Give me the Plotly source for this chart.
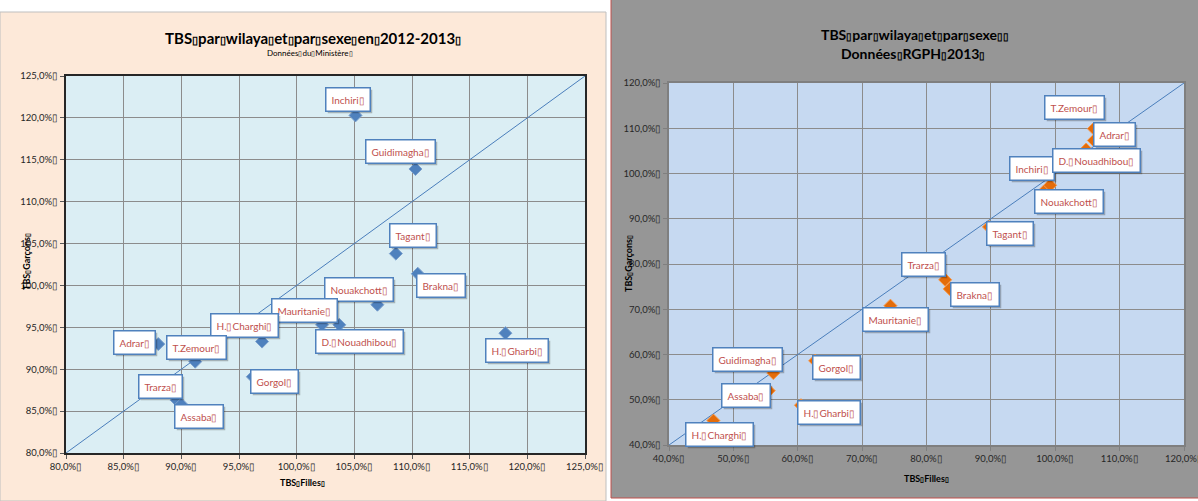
import plotly.graph_objects as go

BOX = "\u25af"  # placeholder glyph that appears between words in the source workbook

# ---------------- Ministry data, 2012-2013 (percent) ----------------
min_wilayas = ["Inchiri", "Guidimagha", "Tagant", "Brakna", "Nouakchott", "Mauritanie",
               "D." + BOX + "Nouadhibou", "H." + BOX + "Gharbi", "H." + BOX + "Charghi",
               "Adrar", "T.Zemour", "Gorgol", "Trarza", "Assaba"]
min_filles = [105.1, 110.3, 108.6, 110.5, 107.0, 102.2, 103.7, 118.1, 97.0, 88.0, 91.2, 96.2, 89.6, 90.0]
min_garcons = [120.3, 113.9, 103.8, 101.4, 97.7, 95.3, 95.3, 94.3, 93.3, 93.0, 90.9, 89.1, 86.3, 85.8]

min_ticks = [80, 85, 90, 95, 100, 105, 110, 115, 120, 125]
min_ticktext = ["80,0%", "85,0%", "90,0%", "95,0%", "100,0%", "105,0%",
                "110,0%", "115,0%", "120,0%", "125,0%"]

# ---------------- RGPH 2013 census data (percent) ----------------
rgph_wilayas = ["Guidimagha", "Gorgol", "Assaba", "H." + BOX + "Gharbi", "H." + BOX + "Charghi",
                "Trarza", "Brakna", "Mauritanie", "Tagant", "Inchiri", "Nouakchott",
                "D." + BOX + "Nouadhibou", "Adrar", "T.Zemour"]
rgph_filles = [56.2, 62.7, 55.5, 60.5, 46.9, 82.9, 83.6, 74.4, 89.7, 98.2, 99.2, 104.8, 106.0, 106.0]
rgph_garcons = [55.9, 58.6, 52.0, 48.8, 45.4, 76.5, 74.5, 70.8, 88.2, 96.0, 97.4, 105.3, 107.3, 109.9]

rgph_ticks = [40, 50, 60, 70, 80, 90, 100, 110, 120]
rgph_ticktext = ["40,0%", "50,0%", "60,0%", "70,0%", "80,0%", "90,0%", "100,0%", "110,0%", "120,0%"]

# chart titles (BOX marks the separators carried over from the workbook)
min_title = "TBS▯par▯wilaya▯et▯par▯sexe▯en▯2012-2013▯"
min_subtitle = "Données▯du▯Ministère▯"
rgph_title = ["TBS▯par▯wilaya▯et▯par▯sexe▯▯", "Données▯RGPH▯2013▯"]
x_title = "TBS▯Filles▯"
y_title = "TBS▯Garçons▯"

# label box offsets from each marker, in pixels (dx right, dy down)
min_label_offsets = {
    "Inchiri": (-7, -16), "Guidimagha": (-15, -17), "Tagant": (17, -18), "Brakna": (23, 12),
    "Nouakchott": (-18, -15), "Mauritanie": (-18, -14), "D." + BOX + "Nouadhibou": (20, 17),
    "H." + BOX + "Gharbi": (12, 17), "H." + BOX + "Charghi": (-18, -16), "Adrar": (-24, -2),
    "T.Zemour": (1, -14), "Gorgol": (22, 5), "Trarza": (-16, -14), "Assaba": (18, 12),
}
rgph_label_offsets = {
    "Guidimagha": (-26, -14), "Gorgol": (21, 7), "Assaba": (-23, 5), "H." + BOX + "Gharbi": (28, 7),
    "H." + BOX + "Charghi": (6, 14), "Trarza": (-22, -15), "Brakna": (25, 6), "Mauritanie": (5, 14),
    "Tagant": (21, 7), "Inchiri": (-12, -23), "Nouakchott": (19, 16),
    "D." + BOX + "Nouadhibou": (10, 11), "Adrar": (21, -6), "T.Zemour": (-19, -21),
}

W, H = 1198, 501
FONT = "Lato, Roboto, sans-serif"


def px_x(p):
    return p / W


def px_y(p):
    return 1 - p / H


def small_boxes(text, size):
    """Render the separator glyphs a bit smaller than the surrounding text."""
    return text.replace(BOX, '<span style="font-size:%dpx">%s</span>' % (size, BOX))


fig = go.Figure()

# identity diagonals (filles = garçons)
fig.add_trace(go.Scatter(x=[min_ticks[0], min_ticks[-1]], y=[min_ticks[0], min_ticks[-1]],
                         mode="lines", line=dict(color="#4A7EBB", width=1),
                         hoverinfo="skip", showlegend=False, xaxis="x", yaxis="y"))
fig.add_trace(go.Scatter(x=[rgph_ticks[0], rgph_ticks[-1]], y=[rgph_ticks[0], rgph_ticks[-1]],
                         mode="lines", line=dict(color="#4A7EBB", width=1),
                         hoverinfo="skip", showlegend=False, xaxis="x2", yaxis="y2"))

fig.add_trace(go.Scatter(x=min_filles, y=min_garcons, mode="markers", text=min_wilayas,
                         marker=dict(symbol="diamond", size=10, color="#4F81BD",
                                     line=dict(color="#7BA0CD", width=1)),
                         showlegend=False, xaxis="x", yaxis="y"))
fig.add_trace(go.Scatter(x=rgph_filles, y=rgph_garcons, mode="markers", text=rgph_wilayas,
                         marker=dict(symbol="diamond", size=10, color="#E46C0A",
                                     line=dict(color="#F79646", width=1)),
                         showlegend=False, xaxis="x2", yaxis="y2"))

shapes = [
    # chart areas
    dict(type="rect", xref="paper", yref="paper", x0=px_x(0), x1=px_x(606), y0=px_y(501), y1=px_y(12),
         fillcolor="#FDE9D9", line=dict(color="#BFBFBF", width=1), layer="below"),
    dict(type="rect", xref="paper", yref="paper", x0=px_x(611), x1=px_x(1199), y0=px_y(498), y1=px_y(-2),
         fillcolor="#969696", line=dict(color="#C0504D", width=1), layer="below"),
    # plot areas
    dict(type="rect", xref="x domain", yref="y domain", x0=0, x1=1, y0=0, y1=1,
         fillcolor="#DBEEF4", line=dict(width=0), layer="below"),
    dict(type="rect", xref="x2 domain", yref="y2 domain", x0=0, x1=1, y0=0, y1=1,
         fillcolor="#C6D9F1", line=dict(width=0), layer="below"),
]

annotations = []
LABEL_SIZE = 10


def add_labels(names, xs, ys, offsets, xref, yref):
    for n, xv, yv in zip(names, xs, ys):
        dx, dy = offsets[n]
        common = dict(x=xv, y=yv, xref=xref, yref=yref, text=n + BOX, showarrow=False,
                      xanchor="center", yanchor="middle", borderpad=5, borderwidth=1.5)
        shadow = dict(common)
        shadow.update(xshift=dx + 2, yshift=-dy - 2, bgcolor="rgba(0,0,0,0.25)",
                      bordercolor="rgba(0,0,0,0)",
                      font=dict(family=FONT, size=LABEL_SIZE, color="rgba(0,0,0,0)"))
        annotations.append(shadow)
        label = dict(common)
        label.update(xshift=dx, yshift=-dy, bgcolor="#FFFFFF", bordercolor="#4F81BD",
                     font=dict(family=FONT, size=LABEL_SIZE, color="#C0504D"))
        annotations.append(label)


add_labels(min_wilayas, min_filles, min_garcons, min_label_offsets, "x", "y")
add_labels(rgph_wilayas, rgph_filles, rgph_garcons, rgph_label_offsets, "x2", "y2")


def text_at(px, py, text, size, angle=0, bold=False):
    t = small_boxes(text, max(int(size * 0.75), 7))
    if bold:
        t = "<b>" + t + "</b>"
    return dict(x=px_x(px), y=px_y(py), xref="paper", yref="paper", showarrow=False,
                xanchor="center", yanchor="middle", textangle=angle, text=t,
                font=dict(family=FONT, size=size, color="#000000"))


annotations += [
    text_at(313, 38, min_title, 15, bold=True),
    text_at(310, 53, min_subtitle, 8),
    text_at(915, 34, rgph_title[0], 14, bold=True),
    text_at(913, 53, rgph_title[1], 14, bold=True),
    # axis titles
    text_at(302, 482, x_title, 9, bold=True),
    text_at(26, 262, y_title, 9, angle=-90, bold=True),
    text_at(926, 478, x_title, 9, bold=True),
    text_at(628, 264, y_title, 9, angle=-90, bold=True),
]

tickfont = dict(family=FONT, size=9.5, color="#262626")
common_axis = dict(showgrid=True, gridcolor="#8C8C8C", gridwidth=1.2, zeroline=False,
                   ticks="outside", ticklen=4, tickfont=tickfont, showline=True, mirror=True,
                   fixedrange=True, automargin=False, ticklabeloverflow="allow")

fig.update_layout(
    width=W, height=H, margin=dict(l=0, r=0, t=0, b=0, autoexpand=False),
    paper_bgcolor="#FFFFFF", plot_bgcolor="rgba(0,0,0,0)",
    showlegend=False, shapes=shapes, annotations=annotations,
    xaxis=dict(common_axis, domain=[px_x(66), px_x(585)], range=[min_ticks[0], min_ticks[-1]],
               tickvals=min_ticks, ticktext=[t + BOX for t in min_ticktext],
               linecolor="#262626", linewidth=2, tickcolor="#595959", anchor="y"),
    yaxis=dict(common_axis, domain=[px_y(453), px_y(76)], range=[min_ticks[0], min_ticks[-1]],
               tickvals=min_ticks, ticktext=[t + BOX for t in min_ticktext],
               linecolor="#262626", linewidth=2, tickcolor="#595959", anchor="x"),
    xaxis2=dict(common_axis, domain=[px_x(669), px_x(1184)], range=[rgph_ticks[0], rgph_ticks[-1]],
                tickvals=rgph_ticks, ticktext=[t + BOX for t in rgph_ticktext],
                linecolor="#7F7F7F", linewidth=1.5, tickcolor="#7F7F7F", anchor="y2"),
    yaxis2=dict(common_axis, domain=[px_y(445), px_y(83)], range=[rgph_ticks[0], rgph_ticks[-1]],
                tickvals=rgph_ticks, ticktext=[t + BOX for t in rgph_ticktext],
                linecolor="#7F7F7F", linewidth=1.5, tickcolor="#7F7F7F", anchor="x2"),
)

fig.write_html("out.html")
